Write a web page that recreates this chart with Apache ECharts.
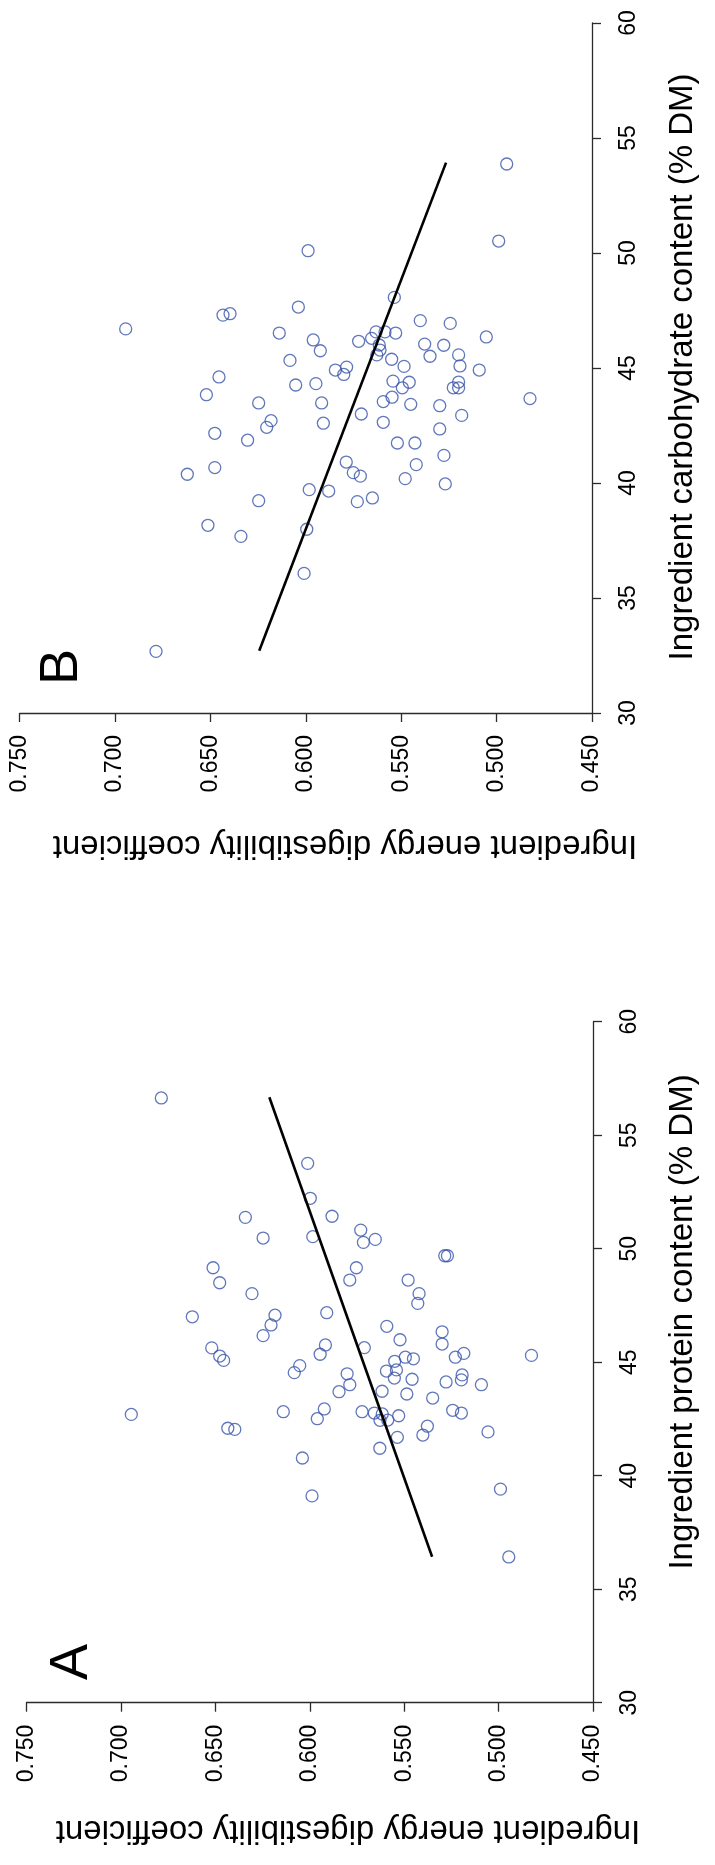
<!DOCTYPE html>
<html>
<head>
<meta charset="utf-8">
<script src="https://cdn.jsdelivr.net/npm/echarts@6/dist/echarts.min.js"></script>
<style>
html,body{margin:0;padding:0;background:#fff;}
#chart{width:715px;height:1865px;}
</style>
</head>
<body>
<div id="chart"></div>
<script>
// ---------- DATA ----------
// Panel A: ingredient energy digestibility coefficient vs protein content (% DM)
var panelA_digest = [0.6786,0.6011,0.5997,0.5882,0.6341,0.6247,0.5984,0.5730,0.5716,0.5653,0.5285,0.5271,0.6512,0.6477,0.6306,0.5753,0.5788,0.5479,0.5421,0.5428,0.6622,0.6184,0.6205,0.6247,0.5910,0.5592,0.5522,0.5299,0.5299,0.6519,0.6477,0.5917,0.5711,0.5184,0.4826,0.5945,0.6456,0.5550,0.5494,0.5451,0.5229,0.6053,0.6082,0.5802,0.5788,0.5845,0.5594,0.5541,0.5552,0.5458,0.5617,0.5486,0.5349,0.5278,0.5197,0.5193,0.5091,0.6945,0.6434,0.6397,0.6140,0.5923,0.5960,0.5723,0.5658,0.5616,0.5628,0.5587,0.5529,0.5536,0.5377,0.5401,0.5243,0.5197,0.5056,0.5629,0.6039,0.5988,0.4990,0.4946];
var panelA_protein = [56.64,53.76,52.22,51.43,51.38,50.47,50.53,50.82,50.28,50.41,49.69,49.69,49.16,48.50,48.02,49.16,48.62,48.62,48.02,47.59,47.00,47.07,46.64,46.17,47.18,46.58,45.99,46.34,45.80,45.63,45.27,45.76,45.64,45.39,45.30,45.35,45.08,45.04,45.22,45.15,45.22,44.85,44.54,44.49,44.01,43.70,44.61,44.66,44.30,44.25,43.72,43.60,43.42,44.13,44.22,44.44,44.01,42.70,42.09,42.04,42.82,42.94,42.51,42.82,42.76,42.72,42.44,42.45,42.64,41.69,42.18,41.79,42.88,42.76,41.93,41.21,40.78,39.11,39.41,36.42];
var fitA_digest = [0.5352, 0.6214];
var fitA_protein = [36.43, 56.67];

// Panel B: ingredient energy digestibility coefficient vs carbohydrate content (% DM)
var panelB_digest = [0.4947,0.4989,0.5988,0.5536,0.6944,0.6434,0.6397,0.6039,0.6139,0.5961,0.5924,0.6083,0.6455,0.6521,0.6247,0.6053,0.5947,0.5917,0.5845,0.5786,0.5801,0.5723,0.5655,0.5632,0.5585,0.5615,0.5611,0.5628,0.5529,0.5550,0.5485,0.5400,0.5377,0.5349,0.5243,0.5277,0.5054,0.5199,0.5192,0.5091,0.5199,0.5227,0.5199,0.5543,0.5458,0.5494,0.5548,0.5594,0.5450,0.5298,0.4825,0.5709,0.5594,0.5183,0.5908,0.6182,0.6205,0.6477,0.6305,0.6621,0.6477,0.6247,0.6513,0.6340,0.5982,0.5880,0.5995,0.6009,0.6785,0.5788,0.5751,0.5714,0.5730,0.5651,0.5520,0.5428,0.5421,0.5479,0.5298,0.5276,0.5269];
var panelB_carb = [53.87,50.52,50.10,48.07,46.70,47.30,47.36,47.65,46.52,46.22,45.75,45.33,44.61,43.84,43.48,44.26,44.32,43.48,44.91,45.04,44.72,46.16,46.29,46.57,46.57,46.00,45.78,45.57,46.52,45.38,45.07,47.06,46.04,45.51,46.94,45.99,46.35,45.57,45.09,44.91,44.39,44.14,44.14,44.43,44.38,44.14,43.73,43.54,43.42,43.36,43.67,43.00,42.64,42.94,42.60,42.71,42.42,42.16,41.86,40.38,40.67,39.23,38.16,37.68,39.71,39.65,37.99,36.07,32.68,40.91,40.45,40.30,39.19,39.35,41.74,41.74,40.80,40.19,42.35,41.20,39.96];
var fitB_digest = [0.6244, 0.5265];
var fitB_carb = [32.71, 53.93];

// Axis ticks
var digestTicks = [0.450, 0.500, 0.550, 0.600, 0.650, 0.700, 0.750];
var contentTicks = [30, 35, 40, 45, 50, 55, 60];

// Text
var yTitle = 'Ingredient energy digestibility coefficient';
var xTitleA = 'Ingredient protein content (% DM)';
var xTitleB = 'Ingredient carbohydrate content (% DM)';
var panelLabels = ['A', 'B'];

// ---------- CHART ----------
function zip(a, b) { return a.map(function (v, i) { return [v, b[i]]; }); }

var FONT = 'Liberation Sans, Arial, Helvetica, sans-serif';
var axisColor = '#2b2b2b';
var ptColor = '#3A55AA';

function makeX(gridIndex) {
  return {
    type: 'value', gridIndex: gridIndex, position: 'bottom', inverse: true,
    min: digestTicks[0], max: digestTicks[digestTicks.length - 1], interval: 0.05,
    axisLine: { show: true, onZero: false, lineStyle: { color: axisColor, width: 1.3 } },
    axisTick: { show: true, length: 9, lineStyle: { color: axisColor, width: 1.3 } },
    splitLine: { show: false },
    axisLabel: {
      rotate: 90, margin: 22, fontSize: 23, color: '#000', fontFamily: FONT,
      formatter: function (v) { return v.toFixed(3); },
      showMinLabel: true, showMaxLabel: true
    }
  };
}
function makeY(gridIndex) {
  return {
    type: 'value', gridIndex: gridIndex, position: 'right',
    min: contentTicks[0], max: contentTicks[contentTicks.length - 1], interval: 5,
    axisLine: { show: true, onZero: false, lineStyle: { color: axisColor, width: 1.3 } },
    axisTick: { show: true, length: 9, lineStyle: { color: axisColor, width: 1.3 } },
    splitLine: { show: false },
    axisLabel: {
      rotate: 90, margin: 25, fontSize: 23, color: '#000', fontFamily: FONT,
      formatter: function (v) { return String(v); },
      showMinLabel: true, showMaxLabel: true
    }
  };
}

function scatterSeries(idx, data) {
  return {
    type: 'scatter', xAxisIndex: idx, yAxisIndex: idx, data: data,
    symbol: 'circle', symbolSize: 12,
    itemStyle: { color: 'rgba(255,255,255,0)', borderColor: ptColor, borderWidth: 1.3 },
    silent: true, z: 3
  };
}
function lineSeries(idx, data) {
  return {
    type: 'line', xAxisIndex: idx, yAxisIndex: idx, data: data,
    symbol: 'none', lineStyle: { color: '#000', width: 2.6 }, silent: true, z: 4
  };
}
function txt(text, x, y, rot, size) {
  return {
    type: 'text', x: x, y: y, rotation: rot, silent: true,
    style: { text: text, font: size + 'px ' + FONT, fill: '#000', align: 'center', verticalAlign: 'middle' }
  };
}

var chart = echarts.init(document.getElementById('chart'), null, { renderer: 'canvas' });
chart.setOption({
  animation: false,
  backgroundColor: '#fff',
  grid: [
    { left: 26.5, right: 122, top: 1021.7, height: 681 },   // A
    { left: 19.6, right: 123, top: 23, height: 690 }        // B
  ],
  xAxis: [makeX(0), makeX(1)],
  yAxis: [makeY(0), makeY(1)],
  series: [
    scatterSeries(0, zip(panelA_digest, panelA_protein)),
    lineSeries(0, zip(fitA_digest, fitA_protein)),
    scatterSeries(1, zip(panelB_digest, panelB_carb)),
    lineSeries(1, zip(fitB_digest, fitB_carb))
  ],
  graphic: [
    txt(yTitle, 345, 845, Math.PI, 33),
    txt(yTitle, 348, 1830, Math.PI, 33),
    txt(xTitleB, 683, 367, Math.PI / 2, 33),
    txt(xTitleA, 683, 1322, Math.PI / 2, 33),
    txt(panelLabels[1], 62, 667, Math.PI / 2, 54),
    txt(panelLabels[0], 72, 1662, Math.PI / 2, 54)
  ]
});
</script>
</body>
</html>
